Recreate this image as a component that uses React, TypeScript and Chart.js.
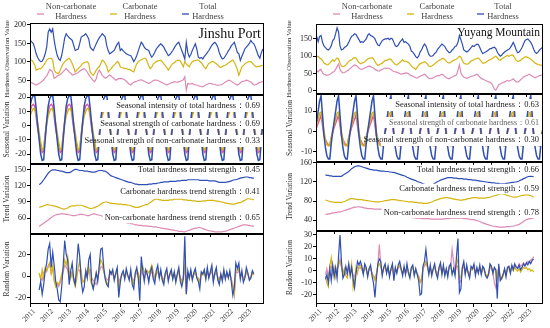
import React, { useEffect, useRef } from "react";
import { Chart, registerables } from "chart.js";

Chart.register(...registerables);

const FONT = '"Liberation Serif", "Times New Roman", serif';
const START_YEAR = 2011;
const TREND_START = 6; // first month index of trend / random components (Jul 2011)
const YEAR_TICKS = [2011, 2012, 2013, 2014, 2015, 2016, 2017, 2018, 2019, 2020, 2021, 2022, 2023];
const LEGEND_LABELS: [string, string][] = [["Non-carbonate", "Hardness"], ["Carbonate", "Hardness"], ["Total", "Hardness"]];

const PINK = "#de8ab4";
const PINK_SEASON = "#e6589e";
const YELLOW = "#d5b512";
const BLUE = "#2f4fb5";

// ---------------- Jinshu Port : observed (Jan 2011 - Dec 2023) ----------------
const jinshuTotal = [
  159, 154, 150, 138, 122, 112, 105, 101, 102, 110, 122, 140,
  180, 189, 180, 189, 158, 135, 118, 108, 104, 118, 140, 165,
  176, 170, 165, 162, 158, 145, 131, 133, 135, 150, 167, 170,
  172, 176, 170, 162, 140, 135, 131, 140, 149, 158, 165, 170,
  176, 172, 167, 144, 130, 122, 125, 128, 131, 140, 148, 153,
  131, 135, 130, 126, 122, 120, 118, 117, 110, 101, 108, 117,
  130, 142, 153, 148, 140, 135, 133, 131, 120, 113, 118, 126,
  135, 140, 145, 149, 145, 140, 132, 125, 117, 120, 125, 131,
  138, 145, 150, 153, 142, 131, 120, 108, 153, 125, 113, 120,
  131, 140, 149, 135, 113, 110, 112, 108, 115, 120, 125, 131,
  138, 145, 150, 153, 148, 140, 125, 115, 108, 110, 116, 122,
  130, 136, 144, 148, 153, 140, 126, 122, 104, 115, 125, 135,
  140, 145, 150, 158, 152, 149, 140, 128, 117, 110, 125, 135,
];
const jinshuCarbonate = [
  105, 105, 100, 92, 78, 80, 82, 82, 86, 91, 98, 105,
  108, 110, 110, 105, 78, 72, 70, 69, 78, 88, 95, 101,
  104, 108, 110, 104, 96, 85, 73, 78, 82, 86, 91, 96,
  98, 100, 101, 96, 73, 68, 64, 70, 78, 84, 87, 95,
  105, 102, 96, 88, 73, 78, 82, 88, 92, 96, 101, 98,
  87, 85, 84, 82, 83, 80, 80, 78, 75, 73, 85, 95,
  101, 104, 106, 108, 110, 110, 100, 90, 82, 86, 95, 98,
  101, 103, 104, 105, 100, 95, 90, 85, 78, 84, 91, 96,
  98, 102, 104, 105, 103, 95, 87, 101, 95, 90, 87, 95,
  101, 103, 104, 105, 105, 102, 98, 92, 86, 82, 90, 96,
  98, 101, 101, 98, 95, 92, 87, 85, 88, 90, 91, 94,
  97, 100, 103, 105, 100, 90, 80, 64, 75, 87, 90, 95,
  98, 100, 101, 101, 97, 92, 88, 87, 88, 89, 90, 91,
];
const jinshuNonCarbonate = [
  46, 44, 42, 40, 38, 40, 42, 45, 48, 52, 58, 62,
  70, 80, 78, 72, 56, 58, 62, 65, 66, 70, 74, 78,
  82, 78, 73, 70, 65, 66, 68, 69, 72, 75, 78, 80,
  82, 78, 73, 66, 60, 55, 50, 47, 55, 70, 78, 72,
  64, 60, 56, 58, 62, 65, 62, 58, 55, 51, 53, 55,
  56, 55, 54, 52, 48, 44, 40, 38, 42, 45, 47, 48,
  50, 51, 52, 50, 48, 46, 44, 42, 44, 47, 50, 51,
  51, 50, 48, 46, 44, 42, 40, 38, 40, 42, 44, 45,
  47, 46, 45, 47, 48, 50, 52, 60, 24, 42, 40, 41,
  42, 40, 38, 38, 36, 35, 34, 33, 35, 38, 40, 42,
  42, 41, 40, 40, 38, 37, 38, 38, 40, 43, 46, 48,
  51, 50, 48, 45, 42, 40, 38, 40, 44, 47, 48, 49,
  51, 50, 48, 46, 42, 38, 38, 40, 43, 45, 46, 47,
];
// seasonal figure, one year (Jan..Dec), repeated every year
const jinshuSeasonTotal = [14, 19, 21, 21.5, 12, 0, -10, -20, -24.5, -24, -10, 3];
const jinshuSeasonCarbonate = [7, 10, 12, 12, 8, 2, -5, -12, -17, -16, -7, 1];
const jinshuSeasonNonCarbonate = [10, 14, 15, 14, 6, -2, -8, -14, -19, -18, -6, 3];
// trend (Jul 2011 - Jun 2023)
const jinshuTrendTotal = [
  122, 124, 127, 131, 135, 139, 143, 146, 148, 149, 149, 149,
  148, 148, 147, 147, 146, 145, 144, 144, 144, 145, 147, 149,
  150, 150, 149, 148, 148, 148, 147, 147, 147, 146, 146, 145,
  145, 145, 146, 147, 148, 148, 148, 147, 147, 145, 143, 140,
  138, 137, 136, 135, 134, 133, 132, 131, 130, 129, 128, 127,
  126, 126, 125, 124, 123, 123, 122, 122, 122, 122, 122, 122,
  122, 123, 123, 123, 124, 124, 124, 125, 125, 126, 126, 127,
  127, 127, 127, 128, 128, 128, 128, 128, 129, 129, 129, 130,
  130, 130, 130, 131, 131, 131, 131, 131, 131, 131, 131, 130,
  130, 130, 130, 130, 130, 129, 129, 129, 129, 129, 128, 127,
  126, 126, 126, 126, 126, 127, 127, 128, 129, 130, 131, 131,
  132, 133, 134, 135, 135, 136, 136, 136, 135, 135, 134, 134,
];
const jinshuTrendCarbonate = [
  80, 81, 82, 83, 84, 85, 85, 84, 84, 83, 83, 82,
  81, 80, 79, 78, 77, 77, 78, 79, 81, 82, 83, 83,
  83, 84, 84, 84, 84, 83, 82, 81, 80, 79, 78, 78,
  79, 80, 81, 82, 84, 86, 88, 89, 90, 90, 89, 88,
  88, 87, 87, 87, 86, 86, 86, 86, 85, 85, 85, 84,
  84, 83, 82, 81, 80, 80, 80, 81, 82, 83, 84, 85,
  85, 87, 89, 91, 93, 95, 95, 95, 94, 94, 93, 93,
  93, 93, 93, 94, 94, 94, 95, 95, 95, 95, 95, 95,
  94, 94, 94, 93, 93, 93, 92, 92, 92, 91, 91, 91,
  91, 92, 92, 92, 93, 93, 93, 93, 93, 92, 92, 91,
  91, 90, 90, 89, 88, 88, 87, 87, 86, 86, 86, 87,
  88, 89, 89, 90, 92, 93, 95, 96, 96, 95, 95, 94,
];
const jinshuTrendNonCarbonate = [
  45, 47, 49, 51, 53, 55, 57, 59, 61, 63, 65, 66,
  67, 67, 68, 68, 68, 68, 67, 67, 66, 66, 65, 65,
  65, 66, 66, 67, 67, 67, 66, 66, 65, 65, 66, 67,
  68, 68, 67, 66, 66, 65, 64, 63, 62, 62, 61, 60,
  59, 58, 57, 57, 56, 55, 55, 54, 53, 53, 52, 51,
  51, 50, 50, 49, 48, 48, 47, 47, 47, 46, 46, 46,
  46, 45, 45, 45, 44, 44, 44, 43, 43, 42, 42, 41,
  41, 40, 40, 39, 39, 38, 38, 37, 37, 36, 36, 36,
  35, 35, 36, 37, 38, 39, 40, 41, 42, 42, 43, 43,
  42, 41, 40, 39, 38, 37, 37, 36, 36, 35, 35, 35,
  35, 35, 35, 36, 36, 37, 38, 39, 40, 41, 42, 43,
  44, 45, 46, 47, 48, 48, 48, 47, 47, 46, 46, 45,
];
// random (Jul 2011 - Jun 2023)
const jinshuRandomTotal = [
  -13, -5, -17, -8, 5, 12, 25, 30, 8, 22, 10, -5,
  -12, -22, -24, -10, 10, 33, 20, 15, -8, 5, 12, -3,
  -8, 10, 30, 18, -5, -15, -10, 5, -2, 15, 20, -6,
  -12, -5, 3, -5, 10, 25, 26, 8, -3, -8, -10, 5,
  2, 6, -4, 3, 8, -20, -6, 2, 5, -3, 7, 1,
  -4, 6, -8, -12, 3, 8, -2, -23, 18, 5, -5, 6,
  2, -6, 4, 8, -3, -7, 5, 10, -2, 6, -4, -8,
  3, 7, -5, 2, 6, -3, 4, -6, 2, 8, -5, -10,
  -3, 37, -17, 5, -2, 6, -4, 3, 7, -2, -5, -12,
  4, 2, 6, -3, 8, -2, 4, 10, -6, 3, 8, -4,
  -8, 2, -5, 6, -3, 4, -2, 5, -6, -18, -10, 12,
  7, 12, -3, 5, -6, -2, 8, 3, -4, -2, 5, 2,
];
const jinshuRandomCarbonate = [
  3, -3, 6, -2, 8, 5, 8, 12, 3, 10, -5, -10,
  -6, -8, -4, 2, 6, 15, 10, 18, 5, -2, 3, -5,
  -10, -3, 8, 14, 4, -6, -4, 2, 5, 9, -3, -8,
  -12, -4, 3, -2, 6, 15, 12, 5, -2, -6, -8, 2,
  4, 2, -3, 1, 5, -17, -4, 1, 3, -2, 4, 0,
  -3, 3, -4, -8, 2, 6, 3, -4, 8, 9, 4, 2,
  5, 3, 6, 10, 4, -2, 2, 5, -1, 3, -3, -6,
  2, 4, -3, 1, 4, -2, 3, -4, 1, 5, -2, -6,
  -2, 10, -5, 2, -3, 4, -2, 2, 4, -1, -3, -6,
  3, 1, 5, -2, 6, -1, 3, 8, -4, 2, 5, -2,
  -5, 1, -3, 4, -2, 3, -1, 3, -4, -10, -17, 6,
  5, 8, -2, 3, -4, -1, 5, 2, -3, -1, 4, 1,
];
const jinshuRandomNonCarbonate = [
  2, -2, -4, 3, 6, 4, 10, 12, 2, 8, -4, -6,
  -8, -10, -6, -2, 4, 10, 8, 6, -3, 2, 4, -2,
  -4, 2, 6, 5, -2, -5, -4, 3, -1, 5, 6, -2,
  -4, -6, -8, -3, 4, 8, 9, 4, -1, -3, -4, 2,
  1, 3, -2, 2, 3, -6, -2, 1, 2, -1, 3, 0,
  -2, 2, -3, -4, 1, 3, -1, -6, 5, 2, -2, 3,
  1, -3, 2, 4, -1, -3, 2, 4, -1, 2, -2, -3,
  1, 3, -2, 1, 2, -1, 2, -3, 1, 3, -2, -4,
  -1, 8, -17, 2, -1, 3, -2, 1, 3, -1, -2, -4,
  2, 1, 3, -1, 4, -1, 2, 4, -2, 1, 3, -1,
  -3, 1, -2, 2, -1, 2, -1, 2, -3, -8, -18, 4,
  3, 5, -1, 2, -3, -1, 3, 1, -2, -1, 2, 1,
];

// ---------------- Yuyang Mountain : observed (Jan 2011 - Dec 2023) ----------------
const yuyangTotal = [
  157, 142, 157, 160, 140, 130, 125, 120, 118, 122, 130, 145,
  150, 165, 182, 170, 130, 118, 120, 125, 128, 132, 140, 150,
  158, 160, 165, 163, 155, 148, 140, 142, 140, 145, 150, 160,
  165, 160, 158, 155, 150, 140, 132, 130, 138, 145, 148, 150,
  150, 152, 148, 152, 150, 140, 130, 128, 132, 140, 145, 150,
  140, 142, 138, 135, 128, 115, 112, 106, 99, 95, 100, 112,
  118, 128, 135, 130, 118, 105, 100, 100, 102, 108, 112, 120,
  125, 130, 135, 132, 128, 120, 115, 110, 112, 118, 122, 128,
  130, 140, 160, 148, 135, 118, 115, 112, 115, 120, 125, 130,
  128, 132, 135, 134, 125, 115, 108, 110, 112, 115, 118, 122,
  122, 125, 126, 122, 112, 105, 100, 103, 108, 112, 115, 118,
  120, 125, 132, 140, 130, 118, 110, 112, 118, 125, 135, 145,
  148, 150, 145, 140, 132, 120, 112, 108, 112, 118, 122, 125,
];
const yuyangCarbonate = [
  98, 100, 95, 92, 88, 80, 78, 75, 76, 80, 85, 90,
  85, 90, 95, 92, 80, 72, 70, 72, 75, 80, 85, 88,
  90, 94, 96, 95, 88, 82, 78, 80, 82, 84, 88, 92,
  94, 95, 96, 93, 85, 78, 74, 75, 78, 80, 84, 88,
  88, 90, 92, 91, 85, 80, 76, 75, 78, 82, 86, 90,
  85, 86, 84, 82, 78, 72, 68, 65, 62, 68, 74, 78,
  80, 82, 84, 82, 78, 72, 70, 72, 75, 78, 82, 85,
  88, 90, 93, 94, 90, 85, 82, 80, 82, 86, 88, 90,
  92, 96, 100, 97, 88, 80, 78, 77, 78, 82, 86, 88,
  90, 92, 94, 95, 90, 85, 80, 80, 82, 85, 88, 90,
  92, 95, 98, 100, 96, 90, 88, 92, 95, 98, 100, 102,
  100, 102, 104, 102, 95, 88, 85, 86, 88, 92, 95, 98,
  98, 96, 94, 92, 88, 84, 80, 78, 76, 75, 74, 75,
];
const yuyangNonCarbonate = [
  58, 55, 60, 62, 52, 48, 46, 45, 46, 48, 50, 54,
  56, 62, 70, 78, 62, 55, 52, 53, 55, 58, 60, 65,
  68, 72, 75, 74, 70, 66, 63, 62, 64, 66, 68, 70,
  72, 70, 68, 66, 62, 60, 58, 57, 60, 62, 64, 66,
  65, 66, 64, 62, 58, 56, 55, 54, 52, 50, 48, 50,
  50, 52, 51, 50, 46, 44, 42, 40, 38, 37, 40, 42,
  44, 46, 48, 45, 40, 36, 35, 36, 38, 40, 42, 44,
  44, 46, 48, 46, 42, 38, 36, 35, 38, 40, 42, 44,
  46, 60, 75, 52, 44, 40, 38, 36, 38, 40, 42, 43,
  44, 46, 48, 45, 40, 36, 34, 32, 30, 28, 26, 25,
  22, 15, 5, 2, 10, 18, 20, 22, 24, 26, 28, 30,
  28, 30, 32, 35, 30, 26, 25, 28, 32, 36, 40, 42,
  44, 46, 48, 46, 42, 40, 38, 40, 42, 44, 45, 46,
];
const yuyangSeasonTotal = [5, 10, 15, 17.5, 8, -2, -8, -12, -13.5, -13.5, -6, 0];
const yuyangSeasonCarbonate = [3, 6, 9, 9.5, 5, 0, -4, -6.5, -7, -6.5, -3, 0.5];
const yuyangSeasonNonCarbonate = [2, 4, 6, 8, 3, -2, -4, -5.5, -6.5, -7, -3, -0.5];
const yuyangTrendTotal = [
  135, 134, 134, 133, 133, 132, 132, 132, 132, 132, 132, 132,
  134, 136, 138, 140, 142, 145, 148, 150, 152, 153, 154, 154,
  153, 152, 151, 150, 149, 148, 147, 146, 146, 145, 145, 145,
  144, 144, 143, 143, 143, 142, 142, 142, 141, 141, 140, 140,
  139, 138, 137, 136, 135, 134, 133, 132, 130, 129, 127, 126,
  125, 124, 123, 121, 120, 119, 118, 116, 115, 114, 113, 113,
  113, 114, 115, 117, 119, 121, 122, 124, 125, 126, 127, 128,
  129, 129, 129, 129, 128, 128, 128, 127, 127, 127, 127, 126,
  126, 126, 125, 125, 125, 124, 124, 124, 123, 123, 122, 122,
  121, 121, 120, 120, 119, 119, 118, 118, 118, 117, 117, 117,
  116, 116, 116, 116, 117, 117, 118, 118, 119, 119, 120, 120,
  121, 122, 124, 125, 127, 128, 130, 131, 132, 132, 132, 131,
];
const yuyangTrendCarbonate = [
  82, 81, 80, 79, 78, 78, 77, 77, 77, 77, 77, 77,
  78, 79, 80, 82, 83, 85, 85, 85, 84, 84, 83, 83,
  83, 83, 82, 82, 81, 81, 80, 80, 79, 79, 78, 78,
  78, 78, 79, 79, 80, 81, 81, 82, 82, 83, 83, 83,
  83, 82, 82, 81, 81, 80, 80, 79, 79, 78, 78, 78,
  78, 77, 77, 77, 76, 76, 76, 75, 75, 75, 75, 76,
  77, 78, 79, 81, 82, 83, 84, 85, 86, 86, 87, 87,
  87, 86, 86, 85, 84, 84, 83, 83, 82, 82, 82, 83,
  83, 84, 85, 85, 86, 87, 87, 87, 87, 86, 86, 86,
  86, 86, 86, 87, 87, 88, 89, 90, 91, 92, 93, 94,
  95, 95, 95, 94, 93, 92, 91, 90, 89, 88, 88, 88,
  89, 90, 91, 92, 92, 93, 93, 93, 92, 91, 90, 88,
];
const yuyangTrendNonCarbonate = [
  52, 52, 53, 53, 54, 55, 55, 56, 56, 57, 57, 58,
  59, 60, 61, 62, 63, 64, 65, 66, 67, 67, 68, 68,
  67, 67, 66, 65, 65, 64, 64, 64, 64, 63, 63, 63,
  63, 63, 63, 62, 61, 60, 59, 58, 57, 56, 55, 54,
  53, 52, 51, 50, 49, 49, 48, 47, 47, 46, 46, 45,
  45, 45, 44, 44, 44, 44, 43, 43, 43, 43, 43, 43,
  42, 42, 42, 42, 42, 42, 42, 42, 42, 42, 43, 43,
  43, 43, 44, 44, 44, 44, 44, 44, 44, 44, 44, 43,
  43, 43, 42, 42, 41, 41, 41, 40, 39, 38, 37, 36,
  34, 33, 32, 31, 30, 29, 28, 27, 27, 26, 26, 25,
  25, 25, 25, 25, 26, 26, 26, 27, 27, 27, 28, 29,
  30, 31, 33, 35, 37, 39, 41, 42, 43, 43, 44, 44,
];
const yuyangRandomTotal = [
  -7, -3, -10, 2, -8, 5, -5, 3, -6, 12, 30, 8,
  -6, -3, 4, -2, 6, -4, 3, -6, -14, -2, 8, 5,
  8, 4, -3, 6, 3, -5, 2, 5, -4, -10, -22, -6,
  6, 10, 8, -4, 3, 6, -2, 4, -5, 2, 6, -8,
  3, -2, 5, 8, 2, -4, 4, -3, 6, -2, -6, 3,
  5, -4, 2, -3, -8, -20, -19, 4, 8, 18, 6, -3,
  5, -4, 2, 6, -2, -6, 3, 7, -3, 5, -4, 2,
  -5, 4, 6, -3, 2, -4, 12, 27, -18, -15, 3, 8,
  -3, 5, -2, -6, 4, 2, 6, -4, 3, -2, 5, -3,
  4, 2, -4, -6, -3, 6, 4, -2, 3, 1, -23, 6,
  -8, -6, -3, 2, -5, 3, 4, -2, 5, 1, 6, 3,
  2, 5, 1, 3, 6, 4, 7, 5, 8, 6, 9, 10,
];
const yuyangRandomCarbonate = [
  -4, -10, -13, 4, 11, -2, 3, -5, 2, 6, 8, 4,
  -3, 2, -4, -6, 5, -2, 6, -14, -8, 3, -2, 4,
  5, 2, -2, 4, 1, -3, 2, 3, -2, -5, -8, -3,
  4, 6, 3, -2, 2, 4, -1, 3, -3, 1, 4, -5,
  2, -1, 3, 5, 1, -2, 2, -2, 4, -1, -4, 2,
  3, -3, 1, -2, -5, -10, -8, 3, 5, 8, 4, -2,
  3, -2, 1, 4, -1, -4, 2, 5, -2, 3, -3, 1,
  -3, 3, 4, -2, 1, -2, 6, 10, -6, -5, 2, 5,
  -2, 3, -1, -4, 2, 1, 4, -2, 2, -1, 3, -2,
  3, 1, -3, -4, -2, 4, 3, -1, 2, 1, -6, 3,
  -5, -7, -4, 1, -3, 2, 2, -1, 3, 0, 3, 1,
  0, 2, -1, 1, 3, 2, 3, 1, 2, 0, 1, -1,
];
const yuyangRandomNonCarbonate = [
  -3, 2, -5, 3, 4, -1, 2, -3, 1, 4, 10, 3,
  -2, 1, -3, -2, 3, -1, 2, -4, -5, 1, 3, 2,
  3, 1, -1, 2, 1, -2, 1, 2, -2, -4, -6, -2,
  5, 22, 6, -2, 2, 3, -1, 2, -3, 1, 3, -4,
  2, -1, 3, 4, 1, -2, 2, -2, 3, -1, -3, 2,
  3, -2, 1, -2, -4, -8, -7, 2, 4, 6, 3, -1,
  2, -2, 1, 3, -1, -3, 2, 4, -1, 2, -2, 1,
  -2, 3, 4, 18, 8, -1, 5, 3, -10, -8, 1, 4,
  -1, 2, -1, -3, 2, 1, 3, -1, 2, -1, 2, -2,
  2, 1, -3, -5, -3, 3, 2, -1, -10, -14, -5, 3,
  -4, -6, -3, 1, -2, 2, 3, 0, 4, 2, 5, 4,
  3, 6, 4, 5, 7, 5, 6, 8, 7, 9, 10, 12,
];

// ---------------- helpers ----------------
const MONTHS = jinshuTotal.length;
function repeatYearly(pattern: number[], count: number): number[] {
  const out: number[] = [];
  for (let i = 0; i < count; i++) out.push(pattern[i % 12]);
  return out;
}
function toPoints(values: number[], startIndex: number) {
  return values.map((v, k) => ({ x: START_YEAR + (startIndex + k) / 12, y: v }));
}

type LineSpec = { label: string; values: number[]; start: number; color: string; width: number; order: number };
type TextSpec = { text: string; y: number; size: number; color: string; bg?: boolean };
type DecorSpec = {
  bands?: { from: number; rows: [number, number][] };
  texts?: TextSpec[];
  title?: { text: string; size: number; y: number };
  legend?: { markerX: number[]; textX: number[] };
};
type SubplotSpec = {
  left: number; width: number; boxTop: number; boxBottom: number;
  padTop: number; xLabels: boolean; axisWidth: number; rightPad: number; titlePad: number;
  xMin: number; xMax: number; yMin: number; yMax: number; yTicks: number[]; yTitle: string; yTitleSize: number;
  lines: LineSpec[]; decor: DecorSpec;
};

const PAD_BOTTOM = 6;
const X_AXIS_H = 24;

function makeDecor(spec: DecorSpec, colors: string[]) {
  return {
    id: "decor",
    afterDatasetsDraw(chart: any) {
      const { ctx, chartArea: a } = chart;
      const xs = chart.scales.x;
      ctx.save();
      if (spec.bands) {
        const x0 = xs.getPixelForValue(spec.bands.from);
        ctx.fillStyle = "#ffffff";
        for (const [t, b] of spec.bands.rows) ctx.fillRect(x0, a.top + t, a.right - 1 - x0, b - t);
      }
      for (const t of spec.texts ?? []) {
        ctx.font = `${t.size}px ${FONT}`;
        ctx.textAlign = "right";
        ctx.textBaseline = "middle";
        const w = ctx.measureText(t.text).width;
        const xr = a.right - 4;
        const y = a.top + t.y;
        if (t.bg) {
          ctx.fillStyle = "#ffffff";
          ctx.fillRect(xr - w - 2, y - t.size / 2 - 1, w + 4, t.size + 2);
        }
        ctx.fillStyle = t.color;
        ctx.fillText(t.text, xr, y);
      }
      ctx.strokeStyle = "#000";
      ctx.lineWidth = 1;
      ctx.strokeRect(a.left + 0.5, a.top + 0.5, a.right - a.left - 1, a.bottom - a.top - 1);
      if (spec.title) {
        ctx.font = `${spec.title.size}px ${FONT}`;
        ctx.textAlign = "right";
        ctx.textBaseline = "middle";
        ctx.fillStyle = "#111";
        ctx.fillText(spec.title.text, a.right - 3, a.top + spec.title.y);
      }
      if (spec.legend) {
        ctx.font = `8.5px ${FONT}`;
        ctx.textAlign = "center";
        ctx.textBaseline = "middle";
        LEGEND_LABELS.forEach((lines, k) => {
          ctx.strokeStyle = colors[k];
          ctx.lineWidth = 1.3;
          ctx.beginPath();
          ctx.moveTo(spec.legend!.markerX[k], 14);
          ctx.lineTo(spec.legend!.markerX[k] + 7, 14);
          ctx.stroke();
          ctx.fillStyle = "#444";
          ctx.fillText(lines[0], spec.legend!.textX[k], 7);
          ctx.fillText(lines[1], spec.legend!.textX[k], 17);
        });
      }
      ctx.restore();
    },
  };
}

function Subplot({ spec }: { spec: SubplotSpec }) {
  const ref = useRef<HTMLCanvasElement | null>(null);
  const top = spec.boxTop - spec.padTop;
  const height = spec.boxBottom - spec.boxTop + spec.padTop + (spec.xLabels ? X_AXIS_H : PAD_BOTTOM);
  useEffect(() => {
    if (!ref.current) return;
    const chart = new Chart(ref.current, {
      type: "line",
      data: {
        datasets: spec.lines.map((l) => ({
          label: l.label,
          data: toPoints(l.values, l.start),
          borderColor: l.color,
          backgroundColor: l.color,
          borderWidth: l.width,
          pointRadius: 0,
          tension: 0,
          fill: false,
          order: l.order,
        })),
      },
      options: {
        responsive: false,
        animation: false,
        devicePixelRatio: 1,
        parsing: false,
        layout: { padding: { top: spec.padTop, bottom: spec.xLabels ? 0 : PAD_BOTTOM, left: 0, right: spec.rightPad } },
        plugins: { legend: { display: false }, tooltip: { enabled: false }, title: { display: false } },
        scales: {
          x: {
            type: "linear",
            min: spec.xMin,
            max: spec.xMax,
            afterBuildTicks: (s: any) => { s.ticks = YEAR_TICKS.map((v) => ({ value: v })); },
            afterFit: (s: any) => { s.height = spec.xLabels ? X_AXIS_H : 0; },
            ticks: {
              display: spec.xLabels,
              autoSkip: false,
              minRotation: 45,
              maxRotation: 45,
              labelOffset: 4,
              padding: 0,
              color: "#333",
              font: { family: FONT, size: 7.5 },
              callback: (v: any) => String(v),
            },
            grid: { drawOnChartArea: false, drawTicks: true, tickLength: 3, color: "#000" },
            border: { display: false },
          },
          y: {
            type: "linear",
            min: spec.yMin,
            max: spec.yMax,
            afterBuildTicks: (s: any) => { s.ticks = spec.yTicks.map((v) => ({ value: v })); },
            afterFit: (s: any) => { s.width = spec.axisWidth; },
            ticks: { color: "#222", padding: 1, font: { family: FONT, size: 8 } },
            grid: { drawOnChartArea: false, drawTicks: true, tickLength: 3, color: "#000" },
            border: { display: false },
            title: {
              display: true,
              text: spec.yTitle,
              color: "#333",
              font: { family: FONT, size: spec.yTitleSize },
              padding: { top: spec.titlePad, bottom: 0 },
            },
          },
        },
      } as any,
      plugins: [makeDecor(spec.decor, spec.lines.map((l) => l.color))],
    });
    return () => chart.destroy();
  }, []);
  return (
    <canvas
      ref={ref}
      width={spec.width}
      height={height}
      style={{ position: "absolute", left: spec.left, top, width: spec.width, height }}
    />
  );
}

const SEASON_BANDS: [number, number][] = [[5, 17], [23, 34], [40, 52]];

function panel(opts: {
  left: number; axisWidth: number; rightPad: number; titlePad: number; xMin: number; xMax: number;
  boxes: number[]; name: string; nameSize: number; nameY: number;
  obs: number[][]; season: number[][]; trend: number[][]; random: number[][];
  ranges: [number, number][]; ticks: number[][];
  seasonTexts: TextSpec[]; trendTexts: TextSpec[]; legend: { markerX: number[]; textX: number[] };
}): SubplotSpec[] {
  const colorsFor = (seasonal: boolean) => [seasonal ? PINK_SEASON : PINK, YELLOW, BLUE];
  const mk = (vals: number[][], start: number, width: number, seasonal = false): LineSpec[] =>
    vals.map((v, k) => ({ label: LEGEND_LABELS[k].join(" "), values: v, start, color: colorsFor(seasonal)[k], width, order: 2 - k }));
  const base = { left: opts.left, width: 275, axisWidth: opts.axisWidth, rightPad: opts.rightPad, titlePad: opts.titlePad, xMin: opts.xMin, xMax: opts.xMax };
  const b = opts.boxes;
  return [
    { ...base, boxTop: b[0], boxBottom: b[1], padTop: b[0], xLabels: false, yMin: opts.ranges[0][0], yMax: opts.ranges[0][1], yTicks: opts.ticks[0], yTitle: "Hardness Observation Value", yTitleSize: 6.8, lines: mk(opts.obs, 0, 1.2), decor: { title: { text: opts.name, size: opts.nameSize, y: opts.nameY }, legend: opts.legend } },
    { ...base, boxTop: b[1], boxBottom: b[2], padTop: 6, xLabels: false, yMin: opts.ranges[1][0], yMax: opts.ranges[1][1], yTicks: opts.ticks[1], yTitle: "Seasonal Variation", yTitleSize: 7.5, lines: mk(opts.season, 0, 1.5, true), decor: { bands: { from: 2014.67, rows: SEASON_BANDS }, texts: opts.seasonTexts } },
    { ...base, boxTop: b[2], boxBottom: b[3], padTop: 6, xLabels: false, yMin: opts.ranges[2][0], yMax: opts.ranges[2][1], yTicks: opts.ticks[2], yTitle: "Trend Variation", yTitleSize: 7.5, lines: mk(opts.trend, TREND_START, 1.2), decor: { texts: opts.trendTexts } },
    { ...base, boxTop: b[3], boxBottom: b[4], padTop: 6, xLabels: true, yMin: opts.ranges[3][0], yMax: opts.ranges[3][1], yTicks: opts.ticks[3], yTitle: "Random Variation", yTitleSize: 7.5, lines: mk(opts.random, TREND_START, 1.2), decor: {} },
  ];
}

const LEFT_PANEL = panel({
  left: 0, axisWidth: 30, rightPad: 11, titlePad: 3, xMin: 2010.99, xMax: 2023.98,
  boxes: [23, 95, 164, 234, 304], name: "Jinshu Port", nameSize: 14, nameY: 11,
  obs: [jinshuNonCarbonate, jinshuCarbonate, jinshuTotal],
  season: [repeatYearly(jinshuSeasonNonCarbonate, MONTHS), repeatYearly(jinshuSeasonCarbonate, MONTHS), repeatYearly(jinshuSeasonTotal, MONTHS)],
  trend: [jinshuTrendNonCarbonate, jinshuTrendCarbonate, jinshuTrendTotal],
  random: [jinshuRandomNonCarbonate, jinshuRandomCarbonate, jinshuRandomTotal],
  ranges: [[11, 205], [-27, 21.6], [31, 160], [-26, 39]],
  ticks: [[50, 100, 150, 200], [-20, -10, 0, 10, 20], [60, 90, 120, 150], [-20, 0, 20]],
  seasonTexts: [
    { text: "Seasonal intensity of total hardness：0.69", y: 11, size: 8.5, color: "#222" },
    { text: "Seasonal strength of carbonate hardness：0.69", y: 28.5, size: 8.5, color: "#222" },
    { text: "Seasonal strength of non-carbonate hardness：0.33", y: 46, size: 8.5, color: "#222" },
  ],
  trendTexts: [
    { text: "Total hardness trend strength：0.45", y: 6, size: 8.5, color: "#222", bg: true },
    { text: "Carbonate hardness trend strength：0.41", y: 28, size: 8.5, color: "#222", bg: true },
    { text: "Non-carbonate hardness trend strength：0.65", y: 54, size: 8.5, color: "#222", bg: true },
  ],
  legend: { markerX: [37, 110, 182], textX: [71, 140, 208] },
});

const RIGHT_PANEL = panel({
  left: 275, axisWidth: 41, rightPad: 7, titlePad: 10.5, xMin: 2010.96, xMax: 2023.95,
  boxes: [24, 94, 162, 231, 304], name: "Yuyang Mountain", nameSize: 11.5, nameY: 9,
  obs: [yuyangNonCarbonate, yuyangCarbonate, yuyangTotal],
  season: [repeatYearly(yuyangSeasonNonCarbonate, MONTHS), repeatYearly(yuyangSeasonCarbonate, MONTHS), repeatYearly(yuyangSeasonTotal, MONTHS)],
  trend: [yuyangTrendNonCarbonate, yuyangTrendCarbonate, yuyangTrendTotal],
  random: [yuyangRandomNonCarbonate, yuyangRandomCarbonate, yuyangRandomTotal],
  ranges: [[-9, 193], [-15, 18.4], [17, 162], [-27.5, 33.3]],
  ticks: [[0, 50, 100, 150], [-10, 0, 10], [40, 80, 120, 160], [-20, -10, 0, 10, 20, 30]],
  seasonTexts: [
    { text: "Seasonal intensity of total hardness：0.63", y: 11, size: 8.5, color: "#222" },
    { text: "Seasonal strength of carbonate hardness：0.61", y: 29, size: 8, color: "#666" },
    { text: "Seasonal strength of non-carbonate hardness：0.30", y: 46, size: 8.5, color: "#222" },
  ],
  trendTexts: [
    { text: "Total hardness trend strength：0.66", y: 8, size: 8.5, color: "#222", bg: true },
    { text: "Carbonate hardness trend strength：0.59", y: 27, size: 8.5, color: "#222", bg: true },
    { text: "Non-carbonate hardness trend strength：0.78", y: 50.7, size: 8.5, color: "#222", bg: true },
  ],
  legend: { markerX: [58, 132, 202], textX: [92, 162, 228] },
});

export default function App() {
  return (
    <div style={{ position: "absolute", left: 0, top: 0, width: 550, height: 328, background: "#fff", overflow: "hidden" }}>
      {[...LEFT_PANEL, ...RIGHT_PANEL].map((s, k) => (
        <Subplot key={k} spec={s} />
      ))}
    </div>
  );
}
